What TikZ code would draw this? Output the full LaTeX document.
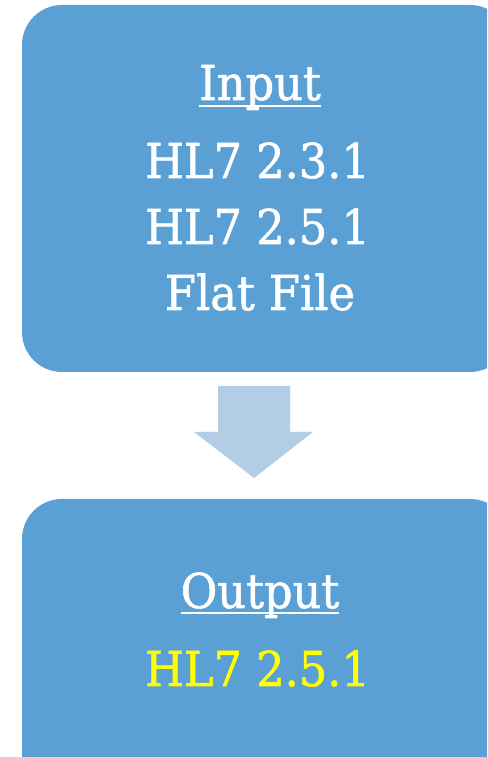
\documentclass[tikz,border=0pt]{standalone}
\usepackage{fontspec}
\setmainfont{DejaVu Serif}[FakeStretch=0.93,FakeBold=1.2]
\definecolor{boxblue}{RGB}{90,160,212}
\definecolor{arrowblue}{RGB}{180,205,230}
\definecolor{hlyellow}{RGB}{255,255,0}
\begin{document}
\begin{tikzpicture}[x=1pt,y=1pt,
  panel/.style={fill=boxblue, draw=none, rounded corners=40pt},
  txt/.style={anchor=base, inner sep=0pt, text=white, font=\fontsize{48}{48}\selectfont},
  uline/.style={draw=white, line width=1.6pt}]
\useasboundingbox (0,0) rectangle (487,757);
\clip (0,0) rectangle (487,757);
\fill[white] (0,0) rectangle (487,757);
% boxes
\path[panel] (22,752) rectangle (510,385);
\path[panel] (22,258) rectangle (510,-60);
% arrow
\fill[arrowblue] (218,371) -- (290,371) -- (290,325) -- (313,325) -- (254,279) -- (194,325) -- (218,325) -- cycle;
% input texts
\node[txt] (in) at (260,657) {Input};
\draw[uline] ([yshift=-6pt]in.base west) -- ([yshift=-6pt]in.base east);
\node[txt] (a) at (257.5,579) {HL7 2.3.1};
\node[txt] (b) at (257.5,513) {HL7 2.5.1};
\node[txt] (c) at (260,447) {Flat File};
% output texts
\node[txt] (out) at (260,149) {Output};
\draw[uline] ([yshift=-5pt]out.base west) -- ([yshift=-5pt]out.base east);
\node[txt, text=hlyellow] (d) at (257.5,71) {HL7 2.5.1};
\end{tikzpicture}
\end{document}
